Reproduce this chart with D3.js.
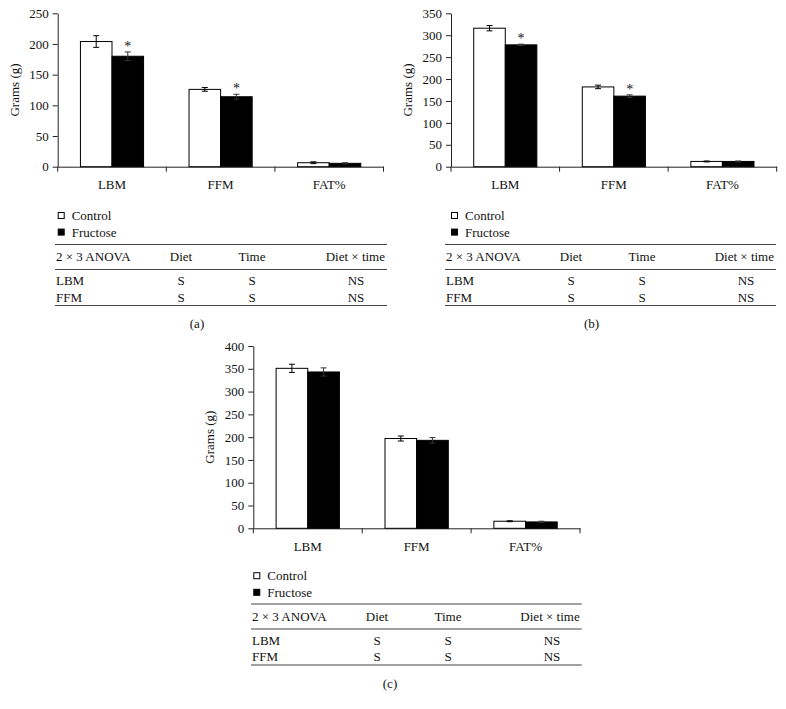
<!DOCTYPE html>
<html>
<head>
<meta charset="utf-8">
<script src="https://cdn.jsdelivr.net/npm/d3@7"></script>
<style>
  body { margin: 0; background: #fff; }
  svg { display: block; font-family: "Liberation Serif", "DejaVu Serif", serif; }
</style>
</head>
<body>
<svg id="svg"></svg>
<script>
// categories and series
const categories = ["LBM", "FFM", "FAT%"];
const seriesNames = ["Control", "Fructose"];

// panel (a)
const controlA = [204, 126, 6.5];
const controlErrA = [9.5, 3, 1.5];
const fructoseA = [180, 114, 5.5];
const fructoseErrA = [7, 4, 1];
const starsA = [true, true, false];

// panel (b)
const controlB = [316, 182, 12];
const controlErrB = [6, 4, 1];
const fructoseB = [278, 161, 12];
const fructoseErrB = [1.5, 3, 1];
const starsB = [true, true, false];

// panel (c)
const controlC = [351, 197, 15.5];
const controlErrC = [9, 5.5, 1];
const fructoseC = [343, 193, 14];
const fructoseErrC = [9, 6, 1.5];
const starsC = [false, false, false];

// ANOVA table
const tableHeader = ["2 \u00d7 3 ANOVA", "Diet", "Time", "Diet \u00d7 time"];
const tableRows = [
    ["LBM", "S", "S", "NS"],
    ["FFM", "S", "S", "NS"]
];

const tickStep = 50;

let width = 786;
let height = 709;
let svg = d3.select("#svg").attr("width", width).attr("height", height);

function drawPanel(p) {
    let g = svg.append("g");

    let x = d3.scaleBand()
        .domain(categories)
        .range([p.x0, p.x1])
        .paddingInner(0)
        .paddingOuter(0);

    let xSub = d3.scaleBand()
        .domain(seriesNames)
        .range([0, x.bandwidth()])
        .paddingInner(0)
        .paddingOuter(0.72);

    let y = d3.scaleLinear()
        .domain([0, p.yMax])
        .range([p.yBottom, p.yTop]);

    // y axis
    let yAxis = g.append("g")
        .attr("transform", "translate(" + p.x0 + ",0)")
        .call(d3.axisLeft(y)
            .tickValues(d3.range(0, p.yMax + 1, tickStep))
            .tickSize(5)
            .tickSizeOuter(0)
            .tickPadding(4));
    yAxis.selectAll("text").attr("font-size", 13).attr("font-family", "Liberation Serif").attr("fill", "#111");
    yAxis.selectAll("line, path").attr("stroke", "#222");

    // x axis, labels at band centres
    let xAxis = g.append("g")
        .attr("transform", "translate(0," + p.yBottom + ")")
        .call(d3.axisBottom(x).tickSize(0).tickSizeOuter(0).tickPadding(13));
    xAxis.selectAll("text").attr("font-size", 13).attr("font-family", "Liberation Serif").attr("fill", "#111");
    xAxis.select(".domain").attr("stroke", "#222");

    // tick marks at band boundaries
    let bounds = categories.map(c => x(c)).concat([p.x1]);
    g.selectAll(".btick")
        .data(bounds)
        .join("line")
        .attr("x1", d => d).attr("x2", d => d)
        .attr("y1", p.yBottom).attr("y2", p.yBottom + 5)
        .attr("stroke", "#222");

    // y label
    g.append("text")
        .attr("transform", "translate(" + (p.x0 - 39) + "," + ((p.yTop + p.yBottom) / 2) + ") rotate(-90)")
        .attr("text-anchor", "middle")
        .attr("font-size", 13)
        .attr("fill", "#111")
        .text("Grams (g)");

    // bars
    let series = [
        { name: "Control", values: p.control, errs: p.controlErr, fill: "#fff" },
        { name: "Fructose", values: p.fructose, errs: p.fructoseErr, fill: "#000" }
    ];

    series.forEach(s => {
        let rows = categories.map((c, i) => ({ c: c, v: s.values[i], e: s.errs[i], star: p.stars[i] }));
        let bx = d => x(d.c) + xSub(s.name);
        let cx = d => bx(d) + xSub.bandwidth() / 2;

        g.selectAll(".bar-" + s.name)
            .data(rows)
            .join("rect")
            .attr("x", bx)
            .attr("y", d => y(d.v))
            .attr("width", xSub.bandwidth())
            .attr("height", d => p.yBottom - y(d.v))
            .attr("fill", s.fill)
            .attr("stroke", "#000")
            .attr("stroke-width", 1);

        // error bars
        let eb = g.selectAll(".err-" + s.name)
            .data(rows)
            .join("g")
            .attr("stroke", s.name === "Control" ? "#000" : "#333")
            .attr("stroke-width", 1);
        eb.append("line")
            .attr("x1", cx).attr("x2", cx)
            .attr("y1", d => y(d.v + d.e)).attr("y2", d => y(d.v - d.e));
        eb.append("line")
            .attr("x1", d => cx(d) - 3).attr("x2", d => cx(d) + 3)
            .attr("y1", d => y(d.v + d.e)).attr("y2", d => y(d.v + d.e));
        eb.append("line")
            .attr("x1", d => cx(d) - 3).attr("x2", d => cx(d) + 3)
            .attr("y1", d => y(d.v - d.e)).attr("y2", d => y(d.v - d.e));

        // significance marks on fructose bars
        if (s.name === "Fructose") {
            g.selectAll(".star")
                .data(rows.filter(d => d.star))
                .join("text")
                .attr("x", cx)
                .attr("y", d => y(d.v + d.e) - 1)
                .attr("text-anchor", "middle")
                .attr("font-size", 14)
                .attr("fill", "#111")
                .text("*");
        }
    });

    // legend
    series.forEach((s, i) => {
        let ly = p.legendY + i * 16.6;
        g.append("rect")
            .attr("x", p.x0 + 0.5)
            .attr("y", ly - 3)
            .attr("width", 6)
            .attr("height", 6)
            .attr("fill", s.fill)
            .attr("stroke", "#000")
            .attr("stroke-width", 1);
        g.append("text")
            .attr("x", p.x0 + 14)
            .attr("y", ly)
            .attr("dy", "0.35em")
            .attr("font-size", 13)
            .attr("fill", "#111")
            .text(s.name);
    });

    // ANOVA table
    let t0 = p.tableX0, t1 = p.tableX1;
    let ty = p.tableY;
    [ty, ty + 25, ty + 61].forEach(ly => {
        g.append("line")
            .attr("x1", t0).attr("x2", t1)
            .attr("y1", ly).attr("y2", ly)
            .attr("stroke", "#444")
            .attr("stroke-width", 1.2);
    });

    // column positions, relative to table start
    let colX = [1, 126, 197, 0];
    let colAnchor = ["start", "middle", "middle", "end"];
    let rowColX = [1, 126, 197, 301];
    let rowAnchor = ["start", "middle", "middle", "middle"];

    tableHeader.forEach((h, j) => {
        g.append("text")
            .attr("x", j === 3 ? t1 - 2 : t0 + colX[j])
            .attr("y", ty + 12)
            .attr("dy", "0.35em")
            .attr("text-anchor", colAnchor[j])
            .attr("font-size", 13)
            .attr("fill", "#111")
            .text(h);
    });

    tableRows.forEach((r, i) => {
        r.forEach((cell, j) => {
            g.append("text")
                .attr("x", t0 + rowColX[j])
                .attr("y", ty + 36 + i * 16.6)
                .attr("dy", "0.35em")
                .attr("text-anchor", rowAnchor[j])
                .attr("font-size", 13)
                .attr("fill", "#111")
                .text(cell);
        });
    });

    // caption
    g.append("text")
        .attr("x", p.captionX)
        .attr("y", p.captionY)
        .attr("dy", "0.35em")
        .attr("text-anchor", "middle")
        .attr("font-size", 13)
        .attr("fill", "#111")
        .text(p.caption);
}

drawPanel({
    x0: 57.7, x1: 383.5, yTop: 13.3, yBottom: 166.7, yMax: 250,
    control: controlA, controlErr: controlErrA, fructose: fructoseA, fructoseErr: fructoseErrA, stars: starsA,
    legendY: 215.5, tableX0: 55, tableX1: 387, tableY: 244.5,
    captionX: 197, captionY: 323, caption: "(a)"
});

drawPanel({
    x0: 451, x1: 776.7, yTop: 13.3, yBottom: 166.7, yMax: 350,
    control: controlB, controlErr: controlErrB, fructose: fructoseB, fructoseErr: fructoseErrB, stars: starsB,
    legendY: 215.5, tableX0: 445, tableX1: 776, tableY: 244.5,
    captionX: 591.5, captionY: 323, caption: "(b)"
});

drawPanel({
    x0: 253.3, x1: 580, yTop: 346, yBottom: 528.3, yMax: 400,
    control: controlC, controlErr: controlErrC, fructose: fructoseC, fructoseErr: fructoseErrC, stars: starsC,
    legendY: 575.7, tableX0: 251, tableX1: 581.7, tableY: 604,
    captionX: 390, captionY: 683, caption: "(c)"
});
</script>
</body>
</html>
